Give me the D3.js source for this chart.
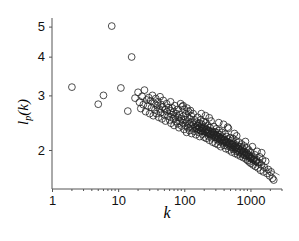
<!DOCTYPE html>
<html>
<head>
<meta charset="utf-8">
<script src="https://cdn.jsdelivr.net/npm/d3@7"></script>
<style>
  body { margin: 0; background: #fff; }
  svg { display: block; }
</style>
</head>
<body>
<svg width="299" height="241"></svg>
<script>
// scattered points at small k
var kLow = [2, 5, 6, 8, 11, 14, 16];
var lLow = [3.19, 2.81, 3.0, 5.02, 3.17, 2.67, 3.99];

// the main cloud, [k, l_p(k)]
var cloud = [
  [18,2.94],[20,3.07],[21,2.85],[22,2.72],[23,2.98],[24,2.80],[25,3.12],[26,2.66],[27,2.90],[28,2.77],[29,2.95],[30,2.62],
  [31,2.88],[32,2.74],[33,3.0],[34,2.58],[35,2.83],[36,2.69],[37,2.93],[38,2.62],[39,2.78],[40,2.86],[41,2.55],[42,2.71],
  [43,2.97],[44,2.64],[45,2.80],[46,2.52],[47,2.75],[48,2.89],[50,2.60],[51,2.70],[52,2.48],[54,2.82],[55,2.66],[57,2.57],
  [58,2.74],[60,2.50],[61,2.68],[62,2.86],[63,2.44],[65,2.60],[66,2.73],[68,2.53],[69,2.65],[70,2.40],[72,2.78],[73,2.56],
  [75,2.47],[76,2.62],[78,2.70],[80,2.43],[81,2.55],[83,2.36],[85,2.60],[86,2.48],[88,2.82],[90,2.52],[91,2.39],[93,2.76],
  [95,2.45],[97,2.57],[99,2.33],[101,2.70],[103,2.50],[105,2.40],[106,2.62],[108,2.28],[110,2.46],[112,2.55],[114,2.36],
  [116,2.66],[118,2.43],[120,2.31],[122,2.52],[125,2.39],[127,2.58],[129,2.26],[131,2.45],[134,2.35],[136,2.62],[139,2.42],
  [141,2.30],[144,2.50],[147,2.38],[150,2.24],[153,2.46],[156,2.33],[159,2.55],[162,2.40],[165,2.28],[168,2.44],[171,2.21],
  [174,2.36],[177,2.50],[180,2.30],[184,2.42],[188,2.25],[191,2.35],[195,2.47],[199,2.20],
  [203,2.38],[207,2.29],[211,2.45],[215,2.18],[219,2.33],[223,2.26],[227,2.40],[231,2.22],[236,2.31],[240,2.15],[245,2.36],
  [249,2.24],[254,2.48],[259,2.19],[264,2.30],[269,2.12],[274,2.27],[279,2.38],[284,2.20],[290,2.29],[295,2.10],[300,2.24],
  [306,2.34],[312,2.16],[318,2.27],[324,2.08],[330,2.21],[336,2.31],[343,2.13],[349,2.24],[356,2.05],[363,2.18],[370,2.28],
  [377,2.11],[384,2.20],[392,2.42],[399,2.07],
  [407,2.16],[415,2.25],[423,2.02],[431,2.13],[439,2.21],[448,2.06],[456,2.17],[465,2.35],[474,2.00],[483,2.11],[492,2.19],
  [502,2.04],[511,2.14],[521,1.97],[531,2.09],[541,2.18],[552,2.01],[562,2.10],[573,2.26],[584,1.95],[596,2.06],[607,2.14],
  [619,1.98],[631,2.07],[643,1.93],[655,2.03],[668,2.12],[681,1.96],[694,2.05],[707,1.91],[721,2.00],[735,2.09],[749,1.94],
  [763,2.02],[778,1.89],[793,1.98],
  [808,2.06],[824,1.92],[840,2.13],[856,1.87],[873,1.96],[890,2.03],[907,1.85],[924,1.93],[942,2.00],[961,1.83],[979,1.90],
  [998,1.97],[1020,1.81],[1045,1.88],[1070,2.05],[1100,1.79],[1130,1.86],[1160,1.93],[1190,1.77],[1220,1.84],[1260,1.98],
  [1300,1.75],[1340,1.82],[1380,1.90],[1420,1.72],[1470,1.79],[1520,1.86],[1570,1.70],[1620,1.76],
  [1700,1.84],[1780,1.68],[1860,1.73],[1950,1.65],[2050,1.70],[2150,1.62],[2250,1.60],
  [152,2.36],[158,2.40],[163,2.34],[170,2.37],[176,2.31],[182,2.35],[189,2.32],[196,2.36],[205,2.30],[212,2.33],[221,2.28],
  [229,2.31],[238,2.26],[247,2.29],[256,2.25],[266,2.28],[276,2.23],[287,2.25],[298,2.20],[309,2.23],[321,2.18],[333,2.20],
  [346,2.16],[359,2.19],[373,2.14],[387,2.16],[402,2.12],[418,2.14],[434,2.10],[451,2.12],[469,2.08],[487,2.10],[506,2.06],
  [526,2.08],[546,2.04],[567,2.06],[589,2.02],[612,2.04],[636,2.00],[661,2.02],[687,1.98],[714,2.00],[742,1.96],[771,1.98],
  [801,1.94],[832,1.96],[865,1.92],[899,1.94],[934,1.90],[971,1.92],[1010,1.88],[1050,1.90],[1090,1.86],[1140,1.88],
  [1190,1.84],[1240,1.86],[1290,1.82],
  [96,2.78],[110,2.73],[124,2.68],[181,2.62],[209,2.58],[238,2.54],[332,2.45],[452,2.37],[620,2.22],[1480,1.96]
];

// fitted power law, end points
var fitK = [20, 2750];
var fitL = [2.97, 1.66];

var yTicks = [2, 3, 4, 5];
var xTicks = [1, 10, 100, 1000];

var svg = d3.select("svg"),
    margin = {left: 52, right: 282, top: 18, bottom: 189};

var x = d3.scaleLog().domain([1, 3000]).range([margin.left, margin.right]);
var y = d3.scaleLog().domain([1.497, 5.33]).range([margin.bottom, margin.top]);

var minor = [];
[1, 10, 100, 1000].forEach(function(d) {
  for (var i = 2; i <= 9; i++) if (d * i <= 3000) minor.push(d * i);
});

// x axis
var xAxis = svg.append("g")
    .attr("transform", "translate(0," + margin.bottom + ")")
    .call(d3.axisBottom(x).tickValues(xTicks).tickFormat(d3.format("d")).tickSize(3).tickPadding(4));
xAxis.select(".domain").attr("d", "M" + margin.left + ",0H" + margin.right).attr("stroke", "#555");

svg.append("g")
    .attr("transform", "translate(0," + margin.bottom + ")")
    .selectAll("line").data(minor).enter().append("line")
    .attr("x1", function(d) { return x(d); })
    .attr("x2", function(d) { return x(d); })
    .attr("y1", 0).attr("y2", 2)
    .attr("stroke", "#555");

// y axis
var yAxis = svg.append("g")
    .attr("transform", "translate(" + margin.left + ",0)")
    .call(d3.axisLeft(y).tickValues(yTicks).tickFormat(d3.format("d")).tickSize(3).tickPadding(4));
yAxis.select(".domain").attr("d", "M0," + margin.top + "V" + margin.bottom).attr("stroke", "#555");

svg.selectAll(".tick line").attr("stroke", "#555");
svg.selectAll(".tick text")
    .attr("font-family", "Liberation Sans, Arial, sans-serif")
    .attr("font-size", 13)
    .attr("fill", "#111");

// fit line
svg.append("line")
    .attr("x1", x(fitK[0])).attr("y1", y(fitL[0]))
    .attr("x2", x(fitK[1])).attr("y2", y(fitL[1]))
    .attr("stroke", "#555")
    .attr("stroke-width", 0.8);

// points
var pts = kLow.map(function(k, i) { return [k, lLow[i]]; }).concat(cloud);
svg.append("g").selectAll("circle")
    .data(pts).enter().append("circle")
    .attr("cx", function(d) { return x(d[0]); })
    .attr("cy", function(d) { return y(d[1]); })
    .attr("r", 3.4)
    .attr("fill", "none")
    .attr("stroke", "#222")
    .attr("stroke-width", 0.8);

// axis titles
svg.append("text")
    .attr("x", 167).attr("y", 218)
    .attr("text-anchor", "middle")
    .attr("font-family", "Liberation Serif, Times New Roman, serif")
    .attr("font-style", "italic")
    .attr("font-size", 16)
    .text("k");

var yl = svg.append("text")
    .attr("transform", "translate(28,112) rotate(-90)")
    .attr("text-anchor", "middle")
    .attr("font-family", "Liberation Serif, Times New Roman, serif")
    .attr("font-style", "italic")
    .attr("font-size", 15);
yl.append("tspan").text("l");
yl.append("tspan").attr("font-size", 10).attr("dy", 3).text("p");
yl.append("tspan").attr("dy", -3).text("(k)");
</script>
</body>
</html>
